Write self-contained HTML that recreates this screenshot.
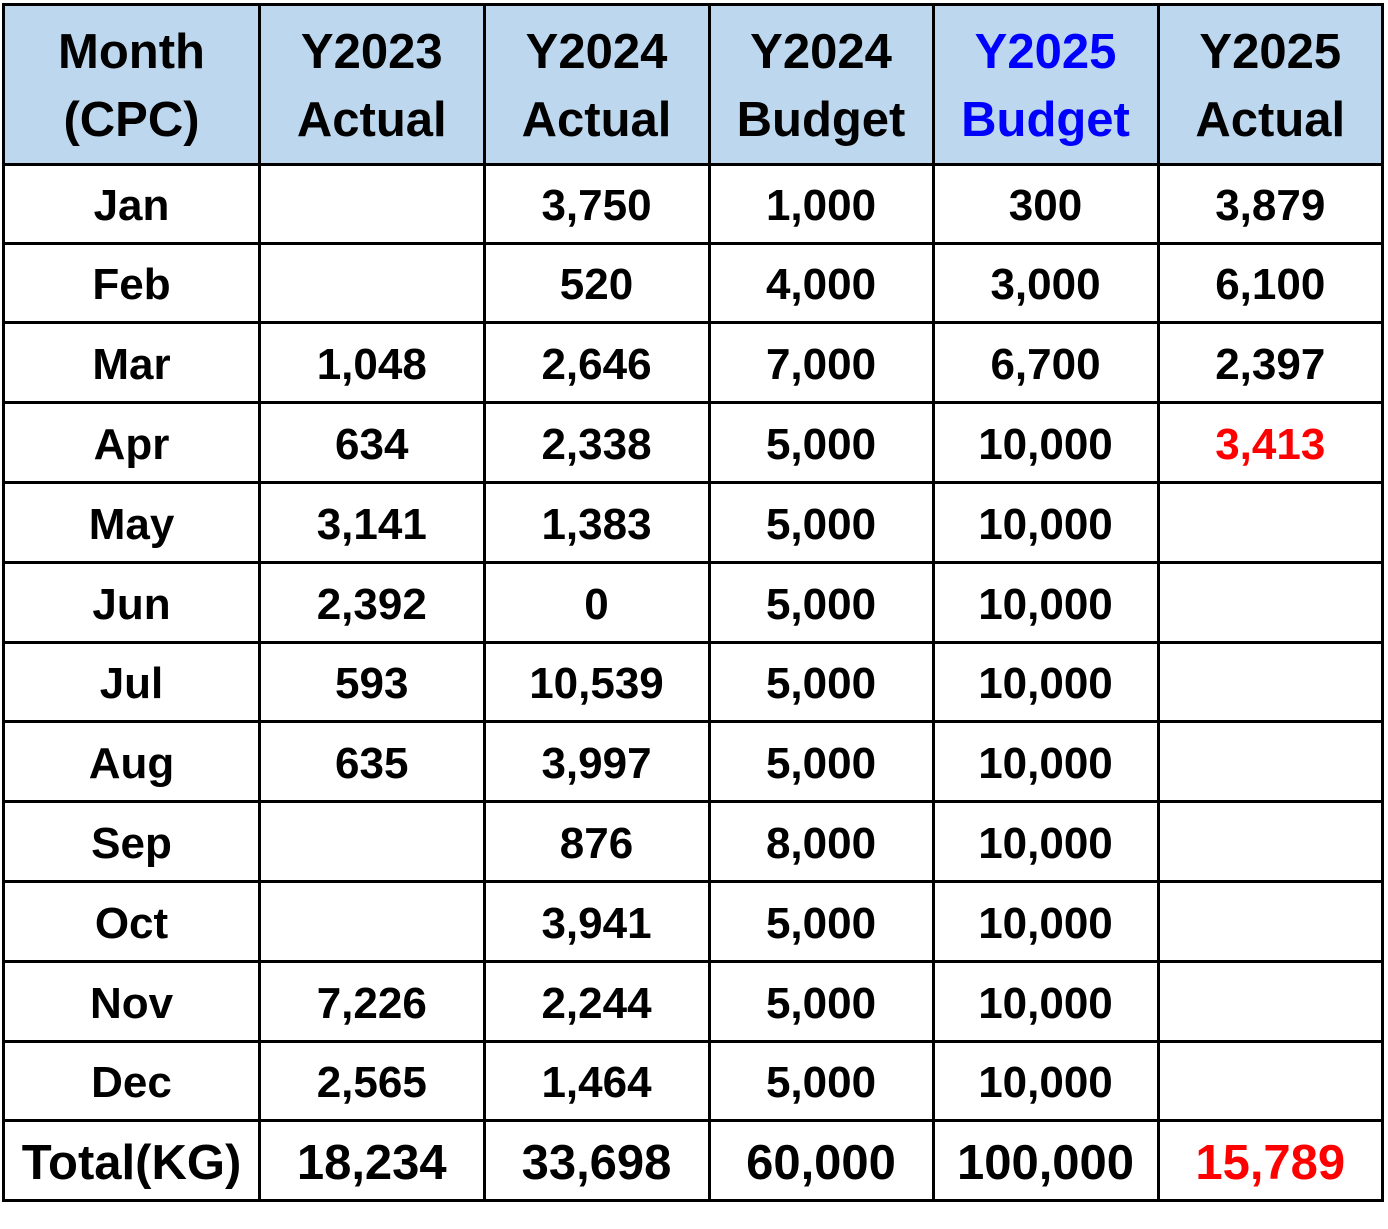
<!DOCTYPE html>
<html><head><meta charset="utf-8"><style>
html,body{margin:0;padding:0;background:#fff;}
#wrap{position:relative;width:1388px;height:1229px;overflow:hidden;font-family:"Liberation Sans",Arial,sans-serif;font-weight:bold;color:#000;}
.cell{position:absolute;display:flex;align-items:center;justify-content:center;text-align:center;white-space:nowrap;box-sizing:border-box;}
.hd{background:#BDD7EE;font-size:49px;line-height:68px;flex-direction:column;padding-top:3px;}
.bd{font-size:44px;padding-top:5px;}
.tt{font-size:49px;padding-top:5px;}
.ln{position:absolute;background:#000;}
</style></head><body>
<div id="wrap"></div>
<script>
const headers=[["Month","(CPC)"],["Y2023","Actual"],["Y2024","Actual"],["Y2024","Budget"],["Y2025","Budget"],["Y2025","Actual"]];
const months=["Jan","Feb","Mar","Apr","May","Jun","Jul","Aug","Sep","Oct","Nov","Dec"];
const y2023Actual=["","","1,048","634","3,141","2,392","593","635","","","7,226","2,565"];
const y2024Actual=["3,750","520","2,646","2,338","1,383","0","10,539","3,997","876","3,941","2,244","1,464"];
const y2024Budget=["1,000","4,000","7,000","5,000","5,000","5,000","5,000","5,000","8,000","5,000","5,000","5,000"];
const y2025Budget=["300","3,000","6,700","10,000","10,000","10,000","10,000","10,000","10,000","10,000","10,000","10,000"];
const y2025Actual=["3,879","6,100","2,397","3,413","","","","","","","",""];
const totals=["Total(KG)","18,234","33,698","60,000","100,000","15,789"];
const colX=[3.5,259.5,484,709,933,1158,1382.5];
const rowY=[4.5,164,243,322,402,482,562,642,721,801,881,961,1041,1120,1200];
const W=document.getElementById('wrap');
function cell(c,r,cls,html,color){
  const d=document.createElement('div');
  d.className='cell '+cls;
  d.style.left=colX[c]+'px';d.style.top=rowY[r]+'px';
  d.style.width=(colX[c+1]-colX[c])+'px';d.style.height=(rowY[r+1]-rowY[r])+'px';
  if(color)d.style.color=color;
  d.innerHTML=html;
  W.appendChild(d);return d;
}
headers.forEach((h,c)=>{
  const d=cell(c,0,'hd','<div>'+h[0]+'</div><div>'+h[1]+'</div>',c===4?'#0000FF':null);
  
  
});
const cols=[months,y2023Actual,y2024Actual,y2024Budget,y2025Budget,y2025Actual];
months.forEach((m,i)=>{
  cols.forEach((col,c)=>{
    const red=(c===5&&i===3);
    const d=cell(c,i+1,'bd',col[i],red?'#FF0000':null);
    
    
  });
});
totals.forEach((t,c)=>{
  const d=cell(c,13,'tt',t,c===5?'#FF0000':null);
  
  
});
colX.forEach(x=>{
  const l=document.createElement('div');l.className='ln';
  
  
  l.style.left=(x-1.5)+'px';l.style.top=(rowY[0]-1.5)+'px';l.style.width='3px';l.style.height=(rowY[rowY.length-1]-rowY[0]+3)+'px';
  W.appendChild(l);
});
rowY.forEach(y=>{
  const l=document.createElement('div');l.className='ln';
  
  
  l.style.top=(y-1.5)+'px';l.style.left=(colX[0]-1.5)+'px';l.style.height='3px';l.style.width=(colX[colX.length-1]-colX[0]+3)+'px';
  W.appendChild(l);
});
</script>
</body></html>
